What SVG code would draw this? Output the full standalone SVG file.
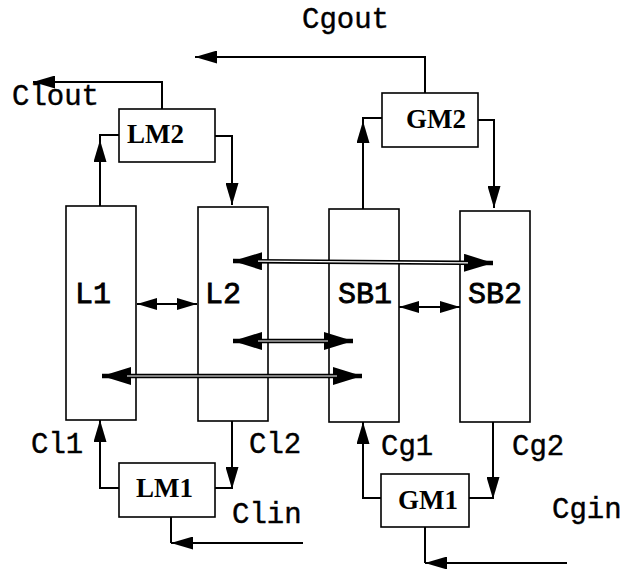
<svg xmlns="http://www.w3.org/2000/svg" width="631" height="569" viewBox="0 0 631 569">
<style>
.box{fill:#fff;stroke:#000;stroke-width:1.6}
.mono{font-family:"Liberation Mono","Courier New",monospace;font-size:29px;fill:#000;stroke:#000;stroke-width:0.4}
.lbl{font-family:"Liberation Mono","Courier New",monospace;font-size:30px;fill:#000;stroke:#000;stroke-width:0.8}
.ser{font-family:"Liberation Serif","Times New Roman",serif;font-size:27px;font-weight:bold;fill:#000}
.ln{fill:none;stroke:#000;stroke-width:2}
.dbl{fill:none;stroke:#000;stroke-width:4.5}
.dbli{fill:none;stroke:#fff;stroke-width:1.2}
</style>
<defs>
<marker id="ah" markerUnits="userSpaceOnUse" markerWidth="22" markerHeight="13" refX="22" refY="6.5" orient="auto-start-reverse"><path d="M0,0 L22,6.5 L0,13 z" fill="#000"/></marker>
<marker id="sm" markerUnits="userSpaceOnUse" markerWidth="20" markerHeight="12" refX="20" refY="6" orient="auto-start-reverse"><path d="M0,0 L20,6 L0,12 z" fill="#000"/></marker>
<marker id="big" markerUnits="userSpaceOnUse" markerWidth="29" markerHeight="18" refX="29" refY="9" orient="auto-start-reverse"><path d="M0,0 L29,9 L0,18 z" fill="#000"/></marker>
</defs>
<g id="L1"><rect class="box" x="66" y="206" width="70" height="214"/><text class="lbl" x="75" y="303">L1</text></g>
<g id="L2"><rect class="box" x="198" y="207" width="70" height="214"/><text class="lbl" x="205" y="303">L2</text></g>
<g id="SB1"><rect class="box" x="329" y="209" width="70" height="213"/><text class="lbl" x="338" y="303">SB1</text></g>
<g id="SB2"><rect class="box" x="460" y="211" width="70" height="211"/><text class="lbl" x="468" y="303">SB2</text></g>
<g id="connectors">
<path class="ln" d="M162,109 V82 H33" marker-end="url(#ah)"/>
<path class="ln" d="M100,206 V140" marker-end="url(#ah)"/>
<path class="ln" d="M100,143 V135 H119"/>
<path class="ln" d="M215,136 H232 V205" marker-end="url(#ah)"/>
<path class="ln" d="M425,93 V57 H195" marker-end="url(#ah)"/>
<path class="ln" d="M363,209 V121" marker-end="url(#ah)"/>
<path class="ln" d="M363,124 V118 H382"/>
<path class="ln" d="M478,120 H494 V208" marker-end="url(#ah)"/>
<path class="ln" d="M137,304 H197" marker-start="url(#sm)" marker-end="url(#sm)"/>
<path class="ln" d="M399,307 H460" marker-start="url(#sm)" marker-end="url(#sm)"/>
<path class="dbl" d="M233,261 L493,263" marker-start="url(#big)" marker-end="url(#big)"/>
<path class="dbli" d="M258,261.2 L468,262.8"/>
<path class="dbl" d="M233,341 L353,341" marker-start="url(#big)" marker-end="url(#big)"/>
<path class="dbli" d="M258,341 L328,341"/>
<path class="dbl" d="M102,376 L362,376" marker-start="url(#big)" marker-end="url(#big)"/>
<path class="dbli" d="M127,376 L337,376"/>
<path class="ln" d="M119,488 H100 V420" marker-end="url(#ah)"/>
<path class="ln" d="M215,488 H232"/>
<path class="ln" d="M232,421 V489" marker-end="url(#ah)"/>
<path class="ln" d="M171,517 V543"/>
<path class="ln" d="M303,543 H171" marker-end="url(#ah)"/>
<path class="ln" d="M381,498 H363 V422" marker-end="url(#ah)"/>
<path class="ln" d="M469,498 H493"/>
<path class="ln" d="M493,422 V499" marker-end="url(#ah)"/>
<path class="ln" d="M425,527 V563"/>
<path class="ln" d="M567,563 H425" marker-end="url(#ah)"/>
</g>
<g id="LM2"><rect class="box" x="119" y="109" width="96" height="53"/><text class="ser" x="127" y="143">LM2</text></g>
<g id="GM2"><rect class="box" x="382" y="93" width="96" height="54"/><text class="ser" x="406" y="128">GM2</text></g>
<g id="LM1"><rect class="box" x="119" y="463" width="96" height="54"/><text class="ser" x="136" y="497">LM1</text></g>
<g id="GM1"><rect class="box" x="381" y="474" width="88" height="53"/><text class="ser" x="398" y="509">GM1</text></g>
<g id="labels">
<text class="mono" x="302" y="28">Cgout</text>
<text class="mono" x="12" y="105">Clout</text>
<text class="mono" x="31" y="453">Cl1</text>
<text class="mono" x="249" y="453">Cl2</text>
<text class="mono" x="232" y="523">Clin</text>
<text class="mono" x="381" y="455">Cg1</text>
<text class="mono" x="512" y="455">Cg2</text>
<text class="mono" x="552" y="518">Cgin</text>
</g>
</svg>
